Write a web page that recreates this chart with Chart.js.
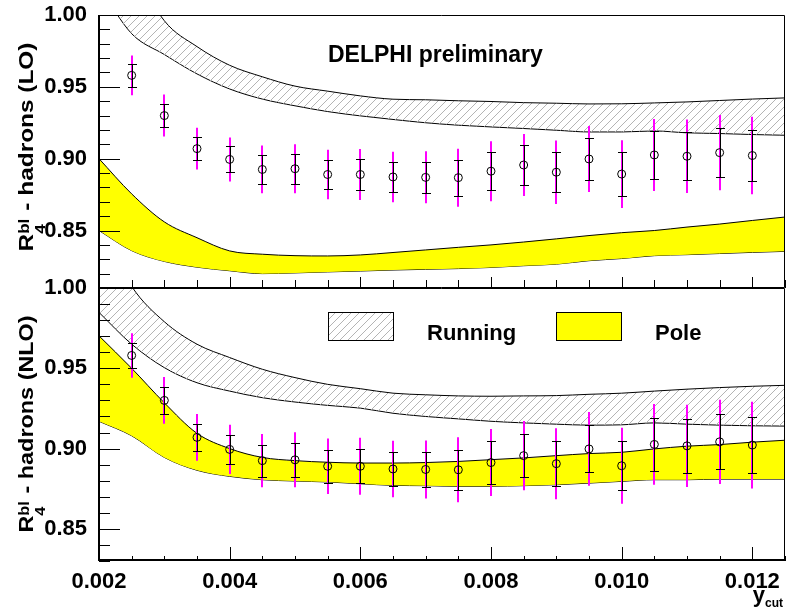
<!DOCTYPE html>
<html>
<head>
<meta charset="utf-8">
<script src="https://cdn.jsdelivr.net/npm/chart.js@4.4.1/dist/chart.umd.min.js"></script>
<style>
  html, body { margin: 0; padding: 0; background: #fff; }
  #wrap { position: relative; width: 787px; height: 615px; overflow: hidden; }
  #wrap canvas { position: absolute; left: 0; }
  #topChart { top: -5px; }
  #botChart { top: 269px; }
</style>
</head>
<body>
<div id="wrap">
  <canvas id="topChart" width="787" height="315"></canvas>
  <canvas id="botChart" width="787" height="346"></canvas>
</div>
<script>
// DELPHI points, same in both panels
const ycut = [0.0025, 0.003, 0.0035, 0.004, 0.0045, 0.005, 0.0055, 0.006, 0.0065, 0.007,
              0.0075, 0.008, 0.0085, 0.009, 0.0095, 0.010, 0.0105, 0.011, 0.0115, 0.012];
const r4 = [0.958, 0.930, 0.907, 0.8995, 0.8925, 0.893, 0.889, 0.889, 0.8873, 0.887,
            0.8868, 0.8913, 0.8956, 0.8906, 0.8998, 0.8893, 0.9026, 0.9017, 0.9042, 0.9022];
const statErr = [0.0080, 0.0082, 0.0082, 0.0090, 0.0100, 0.0105, 0.0103, 0.0107, 0.0107, 0.0110,
                 0.0126, 0.0132, 0.0136, 0.0139, 0.0146, 0.0152, 0.0166, 0.0167, 0.0171, 0.0176];
const totErr = [0.0139, 0.0146, 0.0145, 0.0153, 0.0166, 0.0171, 0.0173, 0.0178, 0.0176, 0.0181,
                0.0202, 0.0209, 0.0216, 0.0221, 0.0230, 0.0236, 0.0251, 0.0256, 0.0262, 0.0270];

// theory bands, read on this x grid
const bandX = [0.002, 0.0025, 0.003, 0.0035, 0.004, 0.0045, 0.005, 0.0055, 0.006, 0.0065, 0.007,
               0.0075, 0.008, 0.0085, 0.009, 0.0095, 0.010, 0.0105, 0.011, 0.0115, 0.012, 0.0125];
// LO
const loRunHi = [1.090, 1.035, 0.996, 0.978, 0.965, 0.957, 0.9505, 0.947, 0.9437, 0.9414, 0.941,
                 0.9403, 0.9398, 0.939, 0.9386, 0.9381, 0.9382, 0.9388, 0.9395, 0.9405, 0.9415, 0.9423];
const loRunLo = [1.020, 0.987, 0.9725, 0.959, 0.9485, 0.9415, 0.9368, 0.9328, 0.9298, 0.9273, 0.925,
                 0.9233, 0.9221, 0.921, 0.9198, 0.9186, 0.9186, 0.9193, 0.918, 0.9175, 0.9168, 0.9163];
const loPoleHi = [0.900, 0.8755, 0.856, 0.845, 0.8358, 0.8335, 0.8325, 0.8323, 0.833, 0.8347, 0.8365,
                  0.8383, 0.840, 0.842, 0.8442, 0.8465, 0.8485, 0.850, 0.8524, 0.8545, 0.857, 0.8594];
const loPoleLo = [0.850, 0.836, 0.8285, 0.8245, 0.822, 0.820, 0.8205, 0.8212, 0.8218, 0.8225, 0.823,
                  0.8235, 0.8243, 0.8255, 0.8266, 0.829, 0.8305, 0.8325, 0.8332, 0.834, 0.8348, 0.8355];
// NLO
const nloRunHi = [1.040, 1.001, 0.979, 0.965, 0.9567, 0.9494, 0.9442, 0.940, 0.9373, 0.9345, 0.9335,
                  0.9328, 0.9326, 0.9328, 0.933, 0.9338, 0.9345, 0.9358, 0.937, 0.938, 0.9388, 0.9394];
const nloRunLo = [0.9848, 0.965, 0.9504, 0.941, 0.9358, 0.9317, 0.929, 0.9269, 0.9252, 0.922, 0.920,
                  0.9185, 0.917, 0.916, 0.9152, 0.9146, 0.9148, 0.916, 0.9152, 0.9146, 0.9142, 0.914];
const nloPoleHi = [0.9702, 0.950, 0.9285, 0.9095, 0.900, 0.8945, 0.8925, 0.8915, 0.891, 0.891, 0.8913,
                   0.892, 0.8931, 0.8942, 0.8956, 0.8969, 0.8977, 0.8998, 0.9015, 0.9025, 0.904, 0.9052];
const nloPoleLo = [0.917, 0.908, 0.8945, 0.8865, 0.8827, 0.8806, 0.8798, 0.8792, 0.8781, 0.8771, 0.8769,
                   0.8765, 0.8765, 0.8769, 0.8775, 0.8785, 0.8796, 0.8806, 0.8806, 0.881, 0.881, 0.881];

const xTicks = [0.002, 0.004, 0.006, 0.008, 0.010, 0.012];
const yTicks = [0.85, 0.90, 0.95, 1.00];
const xMinorStep = 0.0005;
const yMinorStep = 0.01;

const F = "'Liberation Sans', Arial, Helvetica, sans-serif";
const TOP_OFFSET = -5;
const BOT_OFFSET = 269;

function makeHatch() {
    const c = document.createElement('canvas');
    c.width = 8; c.height = 8;
    const g = c.getContext('2d');
    g.strokeStyle = '#b4b4b4';
    g.lineWidth = 1;
    g.beginPath();
    g.moveTo(-1, 9); g.lineTo(9, -1);
    g.moveTo(-1, 1); g.lineTo(1, -1);
    g.moveTo(7, 9); g.lineTo(9, 7);
    g.stroke();
    return g.createPattern(c, 'repeat');
}
const hatch = makeHatch();

function pts(xs, ys) {
    return xs.map((x, i) => ({ x, y: ys[i] }));
}

function band(hi, lo, fillStyle) {
    const common = { borderColor: '#000', borderWidth: 1, pointRadius: 0,
                     cubicInterpolationMode: 'monotone', clip: 0, order: 2 };
    return [
        { ...common, data: pts(bandX, hi), fill: '+1', backgroundColor: fillStyle },
        { ...common, data: pts(bandX, lo), fill: false }
    ];
}

function markers() {
    return {
        data: pts(ycut, r4), showLine: false, order: 0,
        pointRadius: 4, pointBorderWidth: 1,
        pointBorderColor: '#000', pointBackgroundColor: 'rgba(0,0,0,0)'
    };
}

// error bars go under the markers, over the bands
const errorBars = {
    id: 'errorBars',
    beforeDatasetDraw(chart, args) {
        if (args.index !== 0) return;
        const { ctx, scales: { x, y } } = chart;
        ctx.save();
        ycut.forEach((v, i) => {
            const px = Math.round(x.getPixelForValue(v));
            ctx.strokeStyle = '#ff00ff';
            ctx.lineWidth = 2;
            ctx.beginPath();
            ctx.moveTo(px, y.getPixelForValue(r4[i] + totErr[i]));
            ctx.lineTo(px, y.getPixelForValue(r4[i] - totErr[i]));
            ctx.stroke();

            const t = Math.round(y.getPixelForValue(r4[i] + statErr[i])) + 0.5;
            const b = Math.round(y.getPixelForValue(r4[i] - statErr[i])) + 0.5;
            ctx.strokeStyle = '#000';
            ctx.lineWidth = 1;
            ctx.beginPath();
            ctx.moveTo(px + 0.5, t); ctx.lineTo(px + 0.5, b);
            ctx.moveTo(px - 4, t); ctx.lineTo(px + 5, t);
            ctx.moveTo(px - 4, b); ctx.lineTo(px + 5, b);
            ctx.stroke();
        });
        ctx.restore();
    }
};

// frame and inward ticks, ROOT style
const frame = {
    id: 'frame',
    afterDatasetsDraw(chart, args, opts) {
        const { ctx, chartArea: a, scales: { x, y } } = chart;
        ctx.save();
        ctx.strokeStyle = '#000';
        ctx.fillStyle = '#000';
        ctx.lineWidth = 1;
        ctx.beginPath();
        ctx.moveTo(a.left, a.top + 0.5);
        ctx.lineTo(a.right - 0.5, a.top + 0.5);
        ctx.lineTo(a.right - 0.5, a.bottom - 0.5);
        ctx.lineTo(a.left, a.bottom - 0.5);
        ctx.stroke();
        ctx.fillRect(a.left - 1, a.top, 2, a.bottom - a.top);
        if (opts.thickBottom) ctx.fillRect(a.left - 1, a.bottom - 2, a.right - a.left + 1, 2);

        ctx.beginPath();
        const k0 = Math.ceil(y.min / yMinorStep - 1e-6), k1 = Math.floor(y.max / yMinorStep + 1e-6);
        for (let k = k0; k <= k1; k++) {
            const v = k * yMinorStep;
            const major = yTicks.some(t => Math.abs(t - v) < 1e-6);
            const py = Math.round(y.getPixelForValue(v)) + 0.5;
            ctx.moveTo(a.left, py);
            ctx.lineTo(a.left + (major ? 21 : 11), py);
        }
        const j1 = Math.floor((x.max - x.min) / xMinorStep + 1e-6);
        for (let j = 1; j <= j1; j++) {
            const v = x.min + j * xMinorStep;
            const major = xTicks.some(t => Math.abs(t - v) < 1e-7);
            const px = Math.round(x.getPixelForValue(v)) + 0.5;
            ctx.moveTo(px, a.bottom);
            ctx.lineTo(px, a.bottom - (major ? opts.xMajor : opts.xMinor));
        }
        ctx.stroke();
        ctx.restore();
    }
};

function drawYTitle(ctx, baseX, centerY, rest, stretch) {
    ctx.save();
    ctx.fillStyle = '#000';
    ctx.textBaseline = 'alphabetic';
    ctx.font = 'bold 20px ' + F;
    const wR = ctx.measureText('R').width;
    const wRest = ctx.measureText(rest).width;
    ctx.font = 'bold 14px ' + F;
    const wSup = ctx.measureText('bl').width;
    const len = wR + wSup + 1 + wRest;
    ctx.translate(baseX, centerY);
    ctx.rotate(-Math.PI / 2);
    ctx.scale(stretch, 1);
    let px = -len / 2;
    ctx.font = 'bold 20px ' + F;
    ctx.fillText('R', px, 0);
    px += wR;
    ctx.font = 'bold 14px ' + F;
    ctx.fillText('bl', px, -4);
    ctx.fillText('4', px, 12);
    px += wSup + 1;
    ctx.font = 'bold 20px ' + F;
    ctx.fillText(rest, px, 0);
    ctx.restore();
}

const topText = {
    id: 'topText',
    afterDraw(chart) {
        const ctx = chart.ctx;
        ctx.save();
        ctx.translate(0, -TOP_OFFSET);   // page coordinates
        ctx.fillStyle = '#000';
        ctx.font = 'bold 23px ' + F;
        ctx.textBaseline = 'alphabetic';
        ctx.fillText('DELPHI preliminary', 328, 62);
        drawYTitle(ctx, 33, 147, ' - hadrons (LO)', 1.22);
        ctx.restore();
    }
};

const botText = {
    id: 'botText',
    afterDraw(chart) {
        const ctx = chart.ctx;
        ctx.save();
        ctx.translate(0, -BOT_OFFSET);   // page coordinates
        // legend
        ctx.fillStyle = hatch;
        ctx.fillRect(328, 312, 65, 29);
        ctx.fillStyle = '#ffff00';
        ctx.fillRect(556, 312, 66, 29);
        ctx.strokeStyle = '#000';
        ctx.lineWidth = 1;
        ctx.strokeRect(328.5, 312.5, 65, 28);
        ctx.strokeRect(556.5, 312.5, 65, 28);
        ctx.fillStyle = '#000';
        ctx.font = 'bold 22px ' + F;
        ctx.textBaseline = 'alphabetic';
        ctx.fillText('Running', 427, 340);
        ctx.fillText('Pole', 655, 340);

        // x title
        ctx.font = 'bold 22px ' + F;
        const wy = ctx.measureText('y').width;
        ctx.font = 'bold 12px ' + F;
        const wc = ctx.measureText('cut').width;
        const x0 = 783 - wy - wc;
        ctx.font = 'bold 22px ' + F;
        ctx.fillText('y', x0, 602);
        ctx.font = 'bold 12px ' + F;
        ctx.fillText('cut', x0 + wy, 607);

        drawYTitle(ctx, 33, 424, ' - hadrons (NLO)', 1.17);
        ctx.restore();
    }
};

function panelOptions(yMin, yMax, showX, padding, frameOpts) {
    return {
        responsive: false,
        animation: false,
        devicePixelRatio: 1,
        events: [],
        layout: { padding, autoPadding: false },
        plugins: { legend: { display: false }, tooltip: { enabled: false }, frame: frameOpts },
        scales: {
            x: {
                type: 'linear', min: 0.002, max: 0.0125, display: showX,
                grid: { display: false }, border: { display: false },
                afterFit: s => { if (showX) s.height = 54; },
                afterBuildTicks: s => { s.ticks = xTicks.map(v => ({ value: v })); },
                ticks: {
                    autoSkip: false, maxRotation: 0, padding: 0, color: '#000',
                    font: { family: F, size: 22, weight: 'bold' },
                    callback: v => v.toFixed(3)
                }
            },
            y: {
                type: 'linear', min: yMin, max: yMax,
                grid: { display: false }, border: { display: false },
                afterFit: s => { s.width = 99; },
                afterBuildTicks: s => { s.ticks = yTicks.map(v => ({ value: v })); },
                ticks: {
                    autoSkip: false, padding: 4, color: '#000',
                    font: { family: F, size: 22, weight: 'bold' },
                    callback: v => v.toFixed(2)
                }
            }
        }
    };
}

// top panel: page y 15..288
new Chart(document.getElementById('topChart'), {
    type: 'line',
    data: { datasets: [markers(), ...band(loRunHi, loRunLo, hatch), ...band(loPoleHi, loPoleLo, '#ffff00')] },
    options: panelOptions(0.81, 1.00, false, { top: 20, bottom: 22, left: 0, right: 2 },
                          { xMajor: 11, xMinor: 8, thickBottom: false }),
    plugins: [errorBars, frame, topText]
});

// bottom panel: page y 288..561
new Chart(document.getElementById('botChart'), {
    type: 'line',
    data: { datasets: [markers(), ...band(nloRunHi, nloRunLo, hatch), ...band(nloPoleHi, nloPoleLo, '#ffff00')] },
    options: panelOptions(0.83, 1.00, true, { top: 19, bottom: 0, left: 0, right: 2 },
                          { xMajor: 14, xMinor: 5, thickBottom: true }),
    plugins: [errorBars, frame, botText]
});
</script>
</body>
</html>
